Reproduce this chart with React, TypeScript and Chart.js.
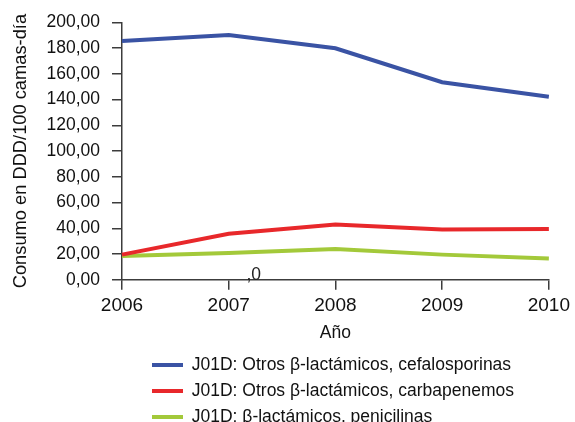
import { useEffect, useRef } from "react";
import { Chart, registerables } from "chart.js";

Chart.register(...registerables);

const years = ["2006", "2007", "2008", "2009", "2010"];
const cefalosporinas = [185.7, 190.3, 180.0, 153.6, 142.3];
const carbapenemos = [19.5, 35.7, 43.0, 39.0, 39.5];
const penicilinas = [18.5, 20.8, 23.8, 19.5, 16.5];
const seriesLabels = [
  "J01D: Otros β-lactámicos, cefalosporinas",
  "J01D: Otros β-lactámicos, carbapenemos",
  "J01D: β-lactámicos, penicilinas",
];
const seriesColors = ["#3a53a4", "#e8282b", "#a3c93a"];
const yTitle = "Consumo en DDD/100 camas-día";
const xTitle = "Año";
const strayText = ",0";
const strayCategoryIndex = 1;
const strayValue = 3.6;

const FONT = "'Liberation Sans', Arial, Helvetica, sans-serif";
const AXIS_COLOR = "#3c3c3c";

const fmt = (v: number) => Number(v).toFixed(2).replace(".", ",");

export default function App() {
  const ref = useRef<HTMLCanvasElement | null>(null);

  useEffect(() => {
    if (!ref.current) return;
    const strayPlugin = {
      id: "strayLabel",
      afterDatasetsDraw(chart: any) {
        const ctx = chart.ctx;
        const xs = chart.scales.x;
        const ys = chart.scales.y;
        const x = xs.getPixelForValue(strayCategoryIndex) + 25;
        const y = ys.getPixelForValue(strayValue);
        ctx.save();
        ctx.font = `17.5px ${FONT}`;
        ctx.fillStyle = "#222";
        ctx.textAlign = "center";
        ctx.textBaseline = "middle";
        ctx.fillText(strayText, x, y);
        ctx.restore();
      },
    };
    const legendShift = {
      id: "legendShift",
      afterLayout(chart: any) {
        const lg = chart.legend;
        if (lg) {
          lg.left = 143.5;
        }
      },
    };
    const chart = new Chart(ref.current, {
      type: "line",
      data: {
        labels: years,
        datasets: [cefalosporinas, carbapenemos, penicilinas].map((d, i) => ({
          label: seriesLabels[i],
          data: d,
          borderColor: seriesColors[i],
          backgroundColor: seriesColors[i],
          borderWidth: 4,
          pointRadius: 0,
          pointHoverRadius: 0,
          tension: 0,
          fill: false,
        })),
      },
      options: {
        responsive: false,
        animation: false,
        events: [],
        layout: { padding: { top: 21, right: 23, bottom: -13.75, left: 0 } },
        font: { family: FONT },
        plugins: {
          tooltip: { enabled: false },
          legend: {
            position: "bottom",
            align: "start",
            labels: {
              usePointStyle: true,
              pointStyle: "line",
              pointStyleWidth: 31,
              boxHeight: 4,
              padding: 8.5,
              color: "#111",
              font: { size: 17.5, family: FONT },
            },
          },
        },
        scales: {
          x: {
            type: "category",
            offset: false,
            grid: {
              drawOnChartArea: false,
              drawTicks: true,
              tickLength: 10,
              color: AXIS_COLOR,
              lineWidth: 1.5,
            },
            border: { display: true, color: AXIS_COLOR, width: 1.5 },
            ticks: { color: "#111", padding: 5, font: { size: 19, family: FONT }, maxRotation: 0 },
            title: {
              display: true,
              text: xTitle,
              color: "#111",
              font: { size: 17.5, family: FONT },
              padding: { top: 0, bottom: 4.25 },
            },
          },
          y: {
            min: 0,
            max: 200,
            grid: {
              drawOnChartArea: false,
              drawTicks: true,
              tickLength: 10,
              color: AXIS_COLOR,
              lineWidth: 1.5,
            },
            border: { display: true, color: AXIS_COLOR, width: 1.5 },
            ticks: {
              stepSize: 20,
              color: "#111",
              padding: 12,
              font: { size: 17.5, family: FONT },
              callback: (v: any) => fmt(v),
            },
            title: {
              display: true,
              text: yTitle,
              color: "#111",
              font: { size: 18.3, family: FONT },
              padding: { top: 10, bottom: 0 },
            },
            afterFit: (s: any) => {
              s.width = 122;
            },
          },
        },
      },
      plugins: [strayPlugin, legendShift],
    } as any);
    return () => chart.destroy();
  }, []);

  return (
    <div style={{ position: "absolute", left: 0, top: 0, width: 575, height: 422, background: "#fff" }}>
      <canvas ref={ref} width={575} height={422} style={{ display: "block", width: 575, height: 422 }} />
    </div>
  );
}
